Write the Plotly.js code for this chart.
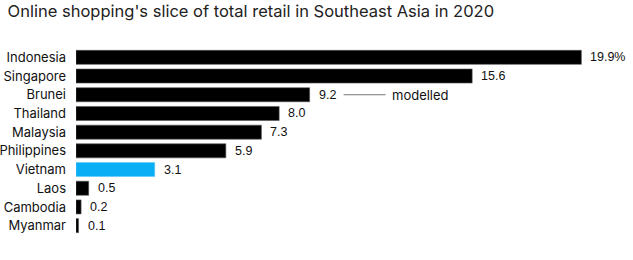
<!DOCTYPE html>
<html>
<head>
<meta charset="utf-8">
<script src="https://cdn.plot.ly/plotly-3.0.1.min.js"></script>
<style>html,body{margin:0;padding:0;background:#fff;}#chart{width:633px;height:260px;}</style>
</head>
<body>
<div id="chart"></div>
<script>
const countries = ["Indonesia","Singapore","Brunei","Thailand","Malaysia","Philippines","Vietnam","Laos","Cambodia","Myanmar"];
const shares = [19.9, 15.6, 9.2, 8.0, 7.3, 5.9, 3.1, 0.5, 0.2, 0.1];
const valueLabels = ["19.9%","15.6","9.2","8.0","7.3","5.9","3.1","0.5","0.2","0.1"];
const highlight = "Vietnam";
const modelledCountry = "Brunei";

const wideFont = "Inter, Liberation Sans, Arial, sans-serif";
const numFont = "Liberation Sans, Arial, sans-serif";

const colors = countries.map(c => c === highlight ? "#0aaef5" : "#000000");
const lineColors = countries.map(c => c === highlight ? "#5cc8f7" : "#555555");

const annotations = countries.map((c, i) => ({
  x: shares[i], y: c, xref: "x", yref: "y",
  text: valueLabels[i], showarrow: false, xanchor: "left", xshift: 7,
  font: {family: numFont, size: 12.5, color: "#111"}
}));
const mi = countries.indexOf(modelledCountry);
annotations.push({
  x: shares[mi], y: modelledCountry, xref: "x", yref: "y",
  text: "modelled", showarrow: true, arrowhead: 0, arrowwidth: 1, arrowcolor: "#777",
  ax: 46, ay: 0, xshift: 34, xanchor: "left", startstandoff: 4,
  font: {family: wideFont, size: 13, color: "#111"}
});

Plotly.newPlot("chart", [{
  type: "bar", orientation: "h",
  x: shares, y: countries,
  marker: {color: colors, line: {color: lineColors, width: 0.6}},
  hoverinfo: "none"
}], {
  width: 633, height: 260,
  margin: {l: 76, r: 11, t: 48, b: 25, pad: 0},
  paper_bgcolor: "#fff", plot_bgcolor: "#fff",
  bargap: 0.25,
  showlegend: false,
  title: {text: "Online shopping's slice of total retail in Southeast Asia in 2020",
    x: 0.012, xanchor: "left", y: 0.955, yanchor: "middle",
    font: {family: wideFont, size: 16.5, color: "#222"}},
  xaxis: {range: [0, 21.5], visible: false, fixedrange: true},
  yaxis: {type: "category", autorange: "reversed", automargin: false,
    showgrid: false, zeroline: false, showline: false, ticks: "",
    ticklabelstandoff: 9,
    tickfont: {family: wideFont, size: 13, color: "#111"}},
  annotations: annotations
}, {staticPlot: true, displayModeBar: false});
</script>
</body>
</html>
